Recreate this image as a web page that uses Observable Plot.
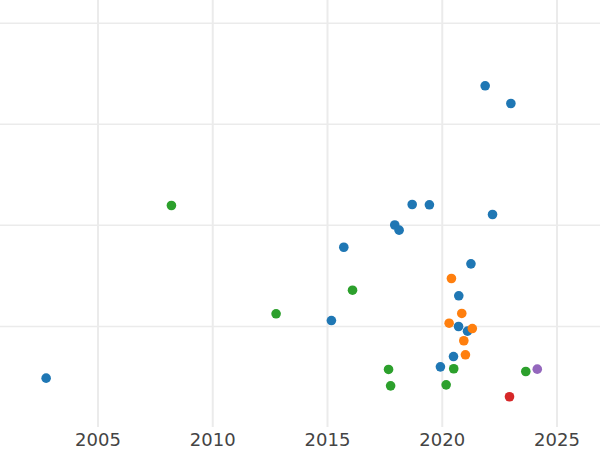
<!DOCTYPE html>
<html>
<head>
<meta charset="utf-8">
<script src="https://cdn.jsdelivr.net/npm/d3@7"></script>
<script src="https://cdn.jsdelivr.net/npm/@observablehq/plot@0.6"></script>
<style>
  html, body { margin: 0; padding: 0; background: #fff; }
</style>
</head>
<body>
<div id="chart"></div>
<script>
// Series (groups) and their values
const groupNames = ["A", "B", "C", "D", "E"];
const groupColors = ["#1f77b4", "#ff7f0e", "#2ca02c", "#d62728", "#9467bd"];

const aYears  = [2002.74, 2015.17, 2015.71, 2017.93, 2018.12, 2018.69, 2019.44, 2021.87, 2022.99, 2022.19, 2021.25, 2020.72, 2020.71, 2021.10, 2020.49, 2019.92];
const aValues = [4.88, 10.58, 17.83, 20.03, 19.52, 22.06, 22.03, 33.80, 32.05, 21.07, 16.19, 13.03, 9.99, 9.53, 7.02, 6.00];

const bYears  = [2020.40, 2020.85, 2020.30, 2021.31, 2020.94, 2021.01];
const bValues = [14.74, 11.28, 10.32, 9.79, 8.58, 7.19];

const cYears  = [2008.20, 2012.76, 2016.09, 2017.66, 2017.75, 2020.50, 2020.17, 2023.64];
const cValues = [21.96, 11.25, 13.58, 5.74, 4.12, 5.81, 4.22, 5.54];

const dYears  = [2022.93];
const dValues = [3.04];

const eYears  = [2024.14];
const eValues = [5.77];

const xTicks = [2005, 2010, 2015, 2020, 2025];
const yTicks = [10, 20, 30, 40];

const seriesYears = [aYears, bYears, cYears, dYears, eYears];
const seriesValues = [aValues, bValues, cValues, dValues, eValues];

const data = [];
groupNames.forEach((g, i) => {
  seriesYears[i].forEach((yr, j) => data.push({group: g, year: yr, value: seriesValues[i][j]}));
});

const chart = Plot.plot({
  width: 600,
  height: 450,
  marginLeft: 0,
  marginRight: 0,
  marginTop: 0,
  marginBottom: 23,
  style: {fontFamily: "'DejaVu Sans', sans-serif", fontSize: "18px", color: "#444", background: "#fff"},
  x: {domain: [2000.752, 2026.895], label: null},
  y: {domain: [0, 42.24], axis: null, label: null},
  color: {domain: groupNames, range: groupColors},
  marks: [
    Plot.gridX(xTicks, {stroke: "#ebebeb", strokeOpacity: 1, strokeWidth: 2}),
    Plot.gridY(yTicks, {stroke: "#ebebeb", strokeOpacity: 1, strokeWidth: 1.5}),
    Plot.axisX(xTicks, {tickSize: 0, tickPadding: 6, tickFormat: d => String(d), fontSize: 18, label: null}),
    Plot.dot(data, {x: "year", y: "value", fill: "group", r: 4.8})
  ]
});
document.getElementById("chart").appendChild(chart);
</script>
</body>
</html>
